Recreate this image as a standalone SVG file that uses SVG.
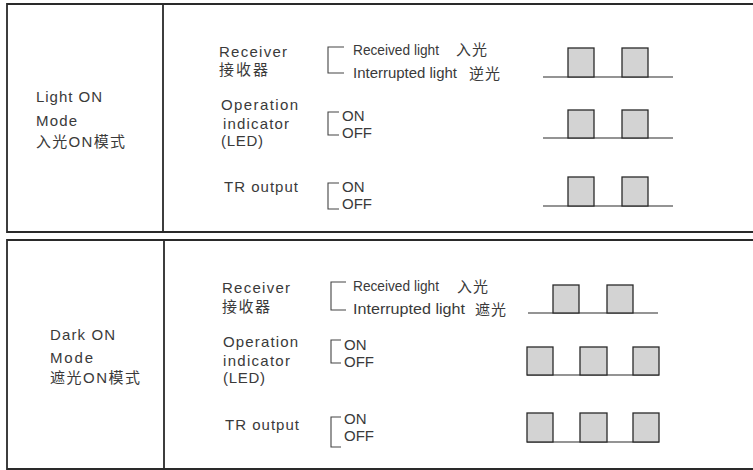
<svg xmlns="http://www.w3.org/2000/svg" width="753" height="470" viewBox="0 0 753 470">
  <style>
    .frame { fill: none; stroke: #2a2a2a; stroke-width: 1.8; }
    .brk { fill: none; stroke: #444; stroke-width: 1.1; }
    .base { fill: none; stroke: #2a2a2a; stroke-width: 1.2; }
    .pulse { fill: #d3d3d3; stroke: #2a2a2a; stroke-width: 1.3; }
    text { font-family: "Liberation Sans", "Noto Sans CJK SC", sans-serif; font-size: 15px; fill: #3a3a3a; }
    .sm { font-size: 14px; }
    .cjk { font-family: "Noto Sans CJK SC", "Liberation Sans", sans-serif; font-size: 15px; }
  </style>
  <rect width="753" height="470" fill="#fff"/>

  <g id="panel-light-on">
    <path class="frame" d="M760,4 H7 V232 H760 M163,4 V232"/>
    <g id="light-title">
      <text x="36" y="102" textLength="66" lengthAdjust="spacing">Light ON</text>
      <text x="36" y="126" textLength="41" lengthAdjust="spacing">Mode</text>
      <text x="36" y="147" textLength="89" lengthAdjust="spacing">入光ON模式</text>
    </g>
    <g id="light-receiver">
      <text x="219" y="57" textLength="68" lengthAdjust="spacing">Receiver</text>
      <text x="219" y="75" textLength="49" lengthAdjust="spacing">接收器</text>
      <path class="brk" d="M344,47 H328 V73 H344"/>
      <text class="sm" x="353" y="55" textLength="86" lengthAdjust="spacingAndGlyphs">Received light</text>
      <text class="cjk" x="456" y="55" textLength="31" lengthAdjust="spacing">入光</text>
      <text x="353" y="78" textLength="104" lengthAdjust="spacingAndGlyphs">Interrupted light</text>
      <text class="cjk" x="469" y="79" textLength="31" lengthAdjust="spacing">逆光</text>
      <path class="base" d="M543,77 H673"/>
      <rect class="pulse" x="568" y="48" width="26" height="29"/>
      <rect class="pulse" x="622" y="48" width="26" height="29"/>
    </g>
    <g id="light-led">
      <text x="221" y="110" textLength="77" lengthAdjust="spacing">Operation</text>
      <text x="223" y="129" textLength="66" lengthAdjust="spacing">indicator</text>
      <text x="221" y="146" textLength="42" lengthAdjust="spacing">(LED)</text>
      <path class="brk" d="M339,112 H328 V135 H339"/>
      <text x="342" y="121">ON</text>
      <text x="342" y="138">OFF</text>
      <path class="base" d="M543,138 H673"/>
      <rect class="pulse" x="568" y="110" width="26" height="28"/>
      <rect class="pulse" x="622" y="110" width="26" height="28"/>
    </g>
    <g id="light-tr">
      <text x="224" y="192" textLength="74" lengthAdjust="spacing">TR output</text>
      <path class="brk" d="M339,183 H328 V209 H339"/>
      <text x="342" y="192">ON</text>
      <text x="342" y="209">OFF</text>
      <path class="base" d="M543,206 H673"/>
      <rect class="pulse" x="568" y="177" width="26" height="29"/>
      <rect class="pulse" x="622" y="177" width="26" height="29"/>
    </g>
  </g>

  <g id="panel-dark-on">
    <path class="frame" d="M760,240 H7 V469 H760 M164,240 V469"/>
    <g id="dark-title">
      <text x="50" y="340" textLength="65" lengthAdjust="spacing">Dark ON</text>
      <text x="50" y="363" textLength="43" lengthAdjust="spacing">Mode</text>
      <text x="50" y="383" textLength="90" lengthAdjust="spacing">遮光ON模式</text>
    </g>
    <g id="dark-receiver">
      <text x="222" y="293" textLength="68" lengthAdjust="spacing">Receiver</text>
      <text x="222" y="312" textLength="48" lengthAdjust="spacing">接收器</text>
      <path class="brk" d="M346,282 H331 V310 H346"/>
      <text class="sm" x="353" y="291" textLength="86" lengthAdjust="spacingAndGlyphs">Received light</text>
      <text class="cjk" x="457" y="292" textLength="31" lengthAdjust="spacing">入光</text>
      <text x="353" y="314" textLength="112" lengthAdjust="spacingAndGlyphs">Interrupted light</text>
      <text class="cjk" x="475" y="315" textLength="31" lengthAdjust="spacing">遮光</text>
      <path class="base" d="M528,313 H658"/>
      <rect class="pulse" x="553" y="285" width="26" height="28"/>
      <rect class="pulse" x="607" y="285" width="26" height="28"/>
    </g>
    <g id="dark-led">
      <text x="223" y="347" textLength="75" lengthAdjust="spacing">Operation</text>
      <text x="223" y="366" textLength="67" lengthAdjust="spacing">indicator</text>
      <text x="223" y="383" textLength="42" lengthAdjust="spacing">(LED)</text>
      <path class="brk" d="M341,340 H331 V363 H341"/>
      <text x="344" y="350">ON</text>
      <text x="344" y="367">OFF</text>
      <path class="base" d="M527,375 H659"/>
      <rect class="pulse" x="527" y="347" width="26" height="28"/>
      <rect class="pulse" x="580" y="347" width="27" height="28"/>
      <rect class="pulse" x="633" y="347" width="26" height="28"/>
    </g>
    <g id="dark-tr">
      <text x="225" y="430" textLength="74" lengthAdjust="spacing">TR output</text>
      <path class="brk" d="M341,417 H331 V447 H341"/>
      <text x="344" y="424">ON</text>
      <text x="344" y="441">OFF</text>
      <path class="base" d="M527,442 H659"/>
      <rect class="pulse" x="527" y="413" width="26" height="29"/>
      <rect class="pulse" x="580" y="413" width="27" height="29"/>
      <rect class="pulse" x="633" y="413" width="26" height="29"/>
    </g>
  </g>
</svg>
